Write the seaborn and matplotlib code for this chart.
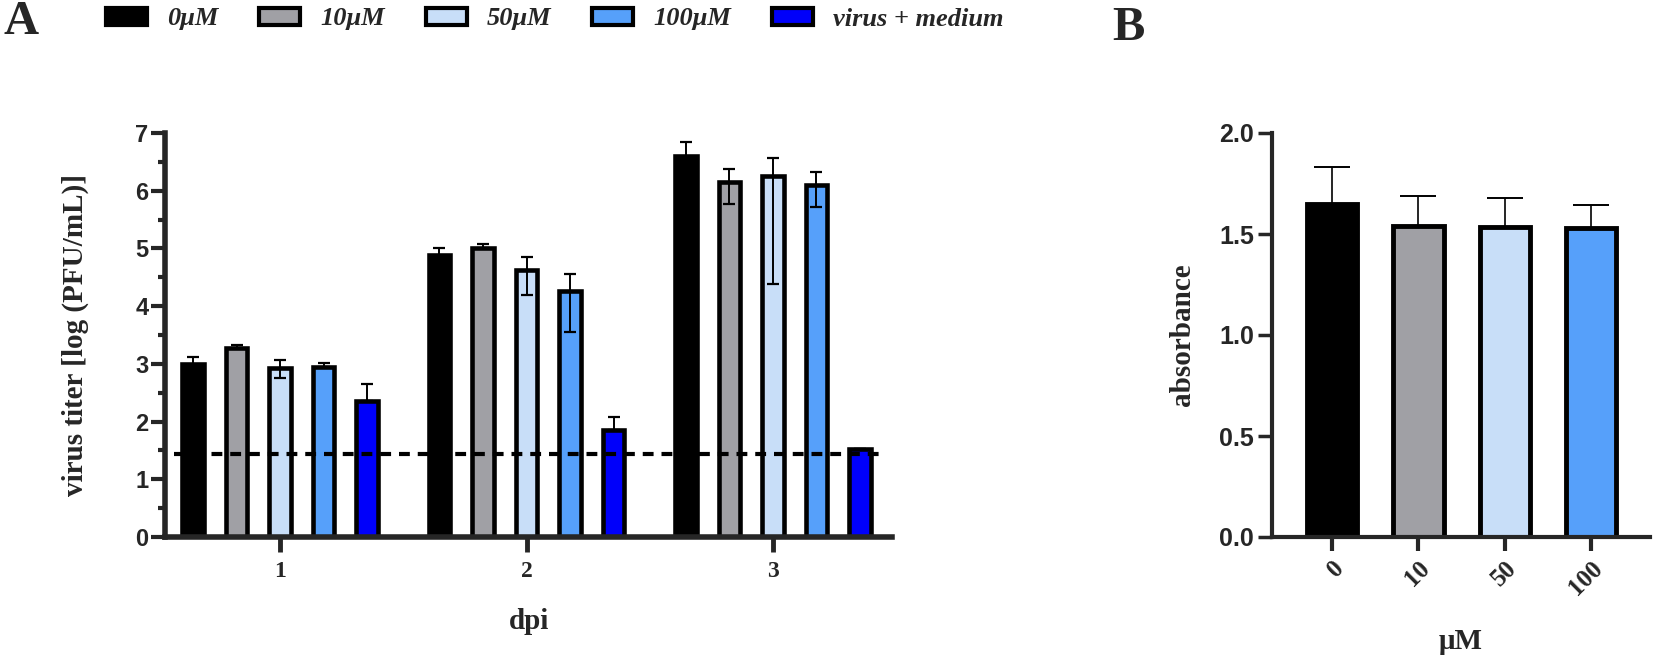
import numpy as np
import pandas as pd
import matplotlib
matplotlib.use("Agg")
import matplotlib.pyplot as plt
import seaborn as sns
from matplotlib.patches import Patch
from matplotlib.container import BarContainer
from matplotlib.ticker import MultipleLocator, FormatStrFormatter

# ---------------- data ----------------
days = ["1", "2", "3"]
treatments = ["0μM", "10μM", "50μM", "100μM", "virus + medium"]
titer_0 = [3.00, 4.88, 6.60]
titer_10 = [3.28, 5.00, 6.15]
titer_50 = [2.92, 4.63, 6.25]
titer_100 = [2.95, 4.27, 6.10]
titer_vm = [2.35, 1.85, 1.53]
err_up_0 = [0.12, 0.13, 0.24]
err_up_10 = [0.05, 0.07, 0.23]
err_up_50 = [0.14, 0.23, 0.31]
err_up_100 = [0.07, 0.28, 0.22]
err_up_vm = [0.30, 0.23, 0.00]
err_lo_0 = [0.12, 0.13, 0.24]
err_lo_10 = [0.00, 0.00, 0.38]
err_lo_50 = [0.16, 0.43, 1.87]
err_lo_100 = [0.00, 0.71, 0.38]
err_lo_vm = [0.00, 0.00, 0.00]
detection_limit = 1.44

conc_labels = ["0", "10", "50", "100"]
absorbance = [1.65, 1.54, 1.535, 1.53]
absorbance_err = [0.18, 0.15, 0.145, 0.115]

colors = ["#000000", "#A0A0A5", "#C8DEF8", "#56A0FA", "#0000FA"]

# ---------------- style ----------------
sns.set_style("ticks")
plt.rcParams["font.family"] = ["Liberation Serif", "DejaVu Serif"]
SERIF = ["Liberation Serif", "DejaVu Serif"]
SANS = ["Liberation Sans", "DejaVu Sans"]

fig = plt.figure(figsize=(16.54, 6.59), dpi=100)
axA = fig.add_axes([165 / 1654, 1 - 537 / 659, (892 - 165) / 1654, 404 / 659])
axB = fig.add_axes([1272 / 1654, 1 - 537 / 659, (1650 - 1272) / 1654, 404 / 659])

# ---------------- panel A ----------------
titers = [titer_0, titer_10, titer_50, titer_100, titer_vm]
ups = [err_up_0, err_up_10, err_up_50, err_up_100, err_up_vm]
los = [err_lo_0, err_lo_10, err_lo_50, err_lo_100, err_lo_vm]
dfA = pd.DataFrame({
    "dpi": np.repeat([days], len(treatments), axis=0).ravel(),
    "treatment": np.repeat(treatments, len(days)),
    "titer": np.concatenate(titers),
})
sns.barplot(data=dfA, x="dpi", y="titer", hue="treatment", order=days,
            hue_order=treatments, palette=colors, width=0.883, gap=0.5,
            edgecolor="black", linewidth=3.3, errorbar=None, legend=False,
            saturation=1, ax=axA)
bar_conts = [c for c in axA.containers if isinstance(c, BarContainer)]
for i, cont in enumerate(bar_conts):
    xs = [b.get_x() + b.get_width() / 2 for b in cont]
    hs = [b.get_height() for b in cont]
    axA.errorbar(xs, hs, yerr=[los[i], ups[i]], fmt="none", ecolor="black",
                 elinewidth=1.4, capsize=4.5, capthick=1.6, zorder=4)
axA.hlines(detection_limit, -0.43, 2.45, colors="black", linewidth=3,
           linestyles=(0, (2.6, 1.9)), zorder=5)
axA.set_xlim(-0.467, 2.483)
axA.set_ylim(0, 7)
axA.set_yticks(range(0, 8))
axA.yaxis.set_minor_locator(MultipleLocator(0.5))
sns.despine(ax=axA)
for s in ["left", "bottom"]:
    axA.spines[s].set_linewidth(4)
axA.tick_params(axis="y", which="major", length=10, width=3, pad=2, labelsize=17)
axA.tick_params(axis="y", which="minor", length=5, width=3)
axA.tick_params(axis="x", length=11, width=3.5, pad=6, labelsize=17)
for t in axA.get_yticklabels():
    t.set_fontfamily(SANS); t.set_fontweight("bold")
for t in axA.get_xticklabels():
    t.set_fontfamily(SERIF); t.set_fontweight("bold")
axA.set_xlabel("dpi", fontsize=21, fontweight="bold", family=SERIF)
axA.xaxis.set_label_coords(0.5, -0.175)
axA.set_ylabel("virus titer [log (PFU/mL)]", fontsize=21, fontweight="bold", family=SERIF)
axA.yaxis.set_label_coords(-0.105, 0.5)

# ---------------- panel B ----------------
dfB = pd.DataFrame({"conc": conc_labels, "absorbance": absorbance})
sns.barplot(data=dfB, x="conc", y="absorbance", hue="conc", order=conc_labels,
            hue_order=conc_labels, palette=colors[:4], width=0.58,
            edgecolor="black", linewidth=3.5, errorbar=None, legend=False,
            saturation=1, ax=axB)
bx, bh = [], []
for cont in [c for c in axB.containers if isinstance(c, BarContainer)]:
    for b in cont:
        bx.append(b.get_x() + b.get_width() / 2)
        bh.append(b.get_height())
axB.errorbar(bx, bh, yerr=[np.zeros(len(absorbance_err)), absorbance_err],
             fmt="none", ecolor="black", elinewidth=1.2, capsize=13,
             capthick=1.4, zorder=4)
axB.set_xlim(-0.695, 3.68)
axB.set_ylim(0, 2.0)
axB.set_yticks(np.arange(0, 2.01, 0.5))
axB.yaxis.set_major_formatter(FormatStrFormatter("%.1f"))
sns.despine(ax=axB)
for s in ["left", "bottom"]:
    axB.spines[s].set_linewidth(3)
axB.tick_params(axis="y", length=10, width=2.5, pad=3, labelsize=18)
axB.tick_params(axis="x", length=10, width=3, pad=4, labelsize=18)
for t in axB.get_yticklabels():
    t.set_fontfamily(SANS); t.set_fontweight("bold")
for t in axB.get_xticklabels():
    t.set_fontfamily(SERIF); t.set_fontweight("bold")
    t.set_rotation(45); t.set_ha("right"); t.set_rotation_mode("anchor")
axB.set_xlabel("μM", fontsize=21, fontweight="bold", family=SERIF)
axB.xaxis.set_label_coords(0.5, -0.225)
axB.set_ylabel("absorbance", fontsize=21, fontweight="bold", family=SERIF)
axB.yaxis.set_label_coords(-0.2, 0.5)

# ---------------- legend & panel letters ----------------
handles = [Patch(facecolor=c, edgecolor="black", linewidth=3) for c in colors]
leg = fig.legend(handles, treatments, loc="center left",
                 bbox_to_anchor=(106 / 1654, 1 - 19 / 659), ncol=5,
                 frameon=False, borderpad=0, borderaxespad=0,
                 handlelength=1.55, handleheight=0.6, handletextpad=0.76,
                 columnspacing=1.55,
                 prop={"family": SERIF, "weight": "bold", "style": "italic", "size": 19})

fig.text(4 / 1654, 1 - 0 / 659, "A", fontsize=35, fontweight="bold",
         family=SERIF, va="top", ha="left")
fig.text(1112 / 1654, 1 - 6 / 659, "B", fontsize=35, fontweight="bold",
         family=SERIF, va="top", ha="left")

fig.savefig("out.png", dpi=100)
